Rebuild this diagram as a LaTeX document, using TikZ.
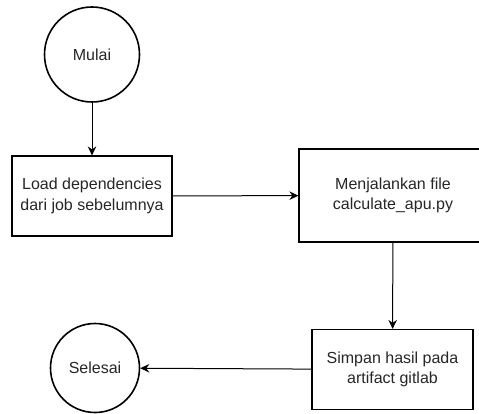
\documentclass[tikz,border=0pt]{standalone}
\usepackage{fontspec}
\setmainfont{Liberation Sans}
\usetikzlibrary{arrows.meta}
\begin{document}
\begin{tikzpicture}[x=1pt,y=-1pt,
  every node/.style={font=\fontsize{16}{20.5}\selectfont, align=center, text=black!85},
  terminal/.style={circle, draw, line width=1.6pt, minimum size=#1, inner sep=0pt},
  process/.style={rectangle, draw, line width=1.2pt, minimum width=#1, inner sep=0pt},
  flow/.style={draw, line width=1pt, -{Stealth[length=9pt,width=8.5pt,inset=3pt]}}]
  \useasboundingbox (0,0) rectangle (479,414);
  \begin{scope}
    \clip (0,0) rectangle (479,414);
    \node[terminal=95pt] (start) at (92,54.5) {Mulai};
    \node[process=160pt, minimum height=80pt] (load) at (92,196) {Load dependencies\\dari job sebelumnya};
    \node[process=188pt, minimum height=93pt] (run) at (393,195.5) {Menjalankan file\\calculate\_apu.py};
    \node[process=161pt, minimum height=80pt] (save) at (392.5,369.5) {Simpan hasil pada\\artifact gitlab};
    \node[terminal=89pt] (finish) at (95,368) {Selesai};
    \draw[flow] (start) -- (load);
    \draw[flow] (load) -- (run);
    \draw[flow] (run) -- (save);
    \draw[flow] (save) -- (finish);
  \end{scope}
\end{tikzpicture}
\end{document}
